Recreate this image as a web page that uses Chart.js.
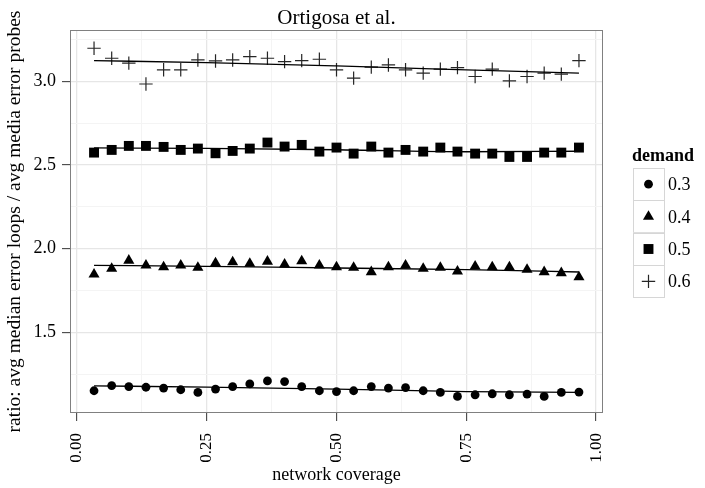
<!DOCTYPE html>
<html>
<head>
<meta charset="utf-8">
<script src="https://cdn.jsdelivr.net/npm/chart.js@4.4.0/dist/chart.umd.min.js"></script>
<style>
  html, body { margin: 0; padding: 0; background: #ffffff; }
  canvas { display: block; }
</style>
</head>
<body>
<canvas id="chart" width="705" height="488"></canvas>
<script>
// Network coverage values shared by every demand level
const coverage = [0.033, 0.067, 0.100, 0.133, 0.167, 0.200, 0.233, 0.267, 0.300, 0.333,
                  0.367, 0.400, 0.433, 0.467, 0.500, 0.533, 0.567, 0.600, 0.633, 0.667,
                  0.700, 0.733, 0.767, 0.800, 0.833, 0.867, 0.900, 0.933, 0.967];

const demandLevels = ['0.3', '0.4', '0.5', '0.6'];

// Ratio of error medians (loops / probes), one array per demand level
const ratio03 = [1.151, 1.182, 1.176, 1.172, 1.167, 1.157, 1.141, 1.161, 1.176, 1.192,
                 1.210, 1.206, 1.176, 1.151, 1.146, 1.151, 1.176, 1.167, 1.170, 1.151,
                 1.141, 1.117, 1.127, 1.133, 1.127, 1.131, 1.117, 1.141, 1.143];
const ratio04 = [1.847, 1.881, 1.930, 1.901, 1.890, 1.901, 1.887, 1.914, 1.920, 1.911,
                 1.924, 1.907, 1.926, 1.901, 1.890, 1.887, 1.861, 1.890, 1.901, 1.881,
                 1.887, 1.865, 1.895, 1.890, 1.890, 1.875, 1.861, 1.855, 1.831];
const ratio05 = [2.575, 2.591, 2.615, 2.615, 2.609, 2.591, 2.599, 2.571, 2.585, 2.599,
                 2.635, 2.611, 2.621, 2.581, 2.605, 2.569, 2.611, 2.575, 2.591, 2.581,
                 2.605, 2.581, 2.569, 2.569, 2.549, 2.549, 2.575, 2.575, 2.605];
const ratio06 = [3.199, 3.139, 3.110, 2.985, 3.070, 3.070, 3.129, 3.123, 3.129, 3.149,
                 3.139, 3.119, 3.125, 3.133, 3.070, 3.020, 3.086, 3.099, 3.070, 3.050,
                 3.074, 3.083, 3.030, 3.074, 3.004, 3.030, 3.050, 3.044, 3.125];

// Smoothed trend per demand level
const fitCoverage = [0.033, 0.250, 0.500, 0.750, 0.967];
const fit03 = [1.180, 1.173, 1.161, 1.146, 1.141];
const fit04 = [1.901, 1.895, 1.885, 1.875, 1.861];
const fit05 = [2.603, 2.600, 2.592, 2.580, 2.583];
const fit06 = [3.125, 3.113, 3.093, 3.070, 3.050];

// Axis ticks
const xMajorTicks = [0, 0.25, 0.5, 0.75, 1.0];
const xMinorTicks = [0.125, 0.375, 0.625, 0.875];
const yMajorTicks = [1.5, 2.0, 2.5, 3.0];
const yMinorTicks = [1.25, 1.75, 2.25, 2.75, 3.25];

const chartTitle = 'Ortigosa et al.';
const xTitle = 'network coverage';
const yTitle = 'ratio: avg median error loops / avg media error probes';
const legendTitle = 'demand';

// ---------------------------------------------------------------------------
const FONT = '"Liberation Serif", "Times New Roman", serif';
Chart.defaults.font.family = FONT;
Chart.defaults.color = '#000';

const markers = [
  { pointStyle: 'circle',   radius: 4.4, fill: '#000', stroke: '#000', width: 0 },
  { pointStyle: 'triangle', radius: 6.4, fill: '#000', stroke: '#000', width: 0 },
  { pointStyle: 'rect',     radius: 7.0, fill: '#000', stroke: '#000', width: 0 },
  { pointStyle: 'cross',    radius: 6.7, fill: 'rgba(0,0,0,0)', stroke: '#262626', width: 1.2 }
];

const series = [ratio03, ratio04, ratio05, ratio06];
const fits = [fit03, fit04, fit05, fit06];
const toXY = (xs, ys) => xs.map((x, i) => ({ x: x, y: ys[i] }));

const isIn = (v, list) => list.some(t => Math.abs(t - v) < 1e-9);

const datasets = [];
fits.forEach((f, i) => {
  datasets.push({
    label: 'trend ' + demandLevels[i],
    data: toXY(fitCoverage, f),
    showLine: true,
    borderColor: '#000',
    borderWidth: 1.3,
    pointRadius: 0,
    cubicInterpolationMode: 'monotone',
    fill: false
  });
});
series.forEach((s, i) => {
  const m = markers[i];
  datasets.push({
    label: demandLevels[i],
    data: toXY(coverage, s),
    showLine: false,
    pointStyle: m.pointStyle,
    pointRadius: m.radius,
    pointBackgroundColor: m.fill,
    pointBorderColor: m.stroke,
    pointBorderWidth: m.width
  });
});

function gridFor(major) {
  return {
    color: c => (c.tick && isIn(c.tick.value, major)) ? '#e6e6e6' : '#f4f4f4',
    lineWidth: c => (c.tick && isIn(c.tick.value, major)) ? 1.3 : 1,
    tickColor: c => (c.tick && isIn(c.tick.value, major)) ? '#333' : 'rgba(0,0,0,0)',
    tickLength: 8,
    tickWidth: 1,
    drawTicks: true
  };
}

// Panel outline around the plotting area
const panelFrame = {
  id: 'panelFrame',
  afterDatasetsDraw(chart) {
    const { ctx, chartArea: a } = chart;
    ctx.save();
    ctx.strokeStyle = '#808080';
    ctx.lineWidth = 1;
    ctx.strokeRect(Math.round(a.left) + 0.5, Math.round(a.top) + 0.5,
                   Math.round(a.right - a.left) - 1, Math.round(a.bottom - a.top) - 1);
    ctx.restore();
  }
};

// Title centred over the panel
const panelTitle = {
  id: 'panelTitle',
  afterDraw(chart) {
    const { ctx, chartArea: a } = chart;
    ctx.save();
    ctx.font = '21px ' + FONT;
    ctx.fillStyle = '#000';
    ctx.textAlign = 'center';
    ctx.textBaseline = 'alphabetic';
    ctx.fillText(chartTitle, (a.left + a.right) / 2, 24);
    ctx.restore();
  }
};

// Shape key for the demand levels
const demandKey = {
  id: 'demandKey',
  afterDraw(chart) {
    const { ctx } = chart;
    const x0 = 633, y0 = 168, w = 31, h = 32.4;
    ctx.save();
    ctx.fillStyle = '#000';
    ctx.font = 'bold 18px ' + FONT;
    ctx.textAlign = 'left';
    ctx.textBaseline = 'alphabetic';
    ctx.fillText(legendTitle, 632, 161);
    demandLevels.forEach((lab, i) => {
      const y = y0 + i * h;
      const m = markers[i];
      ctx.fillStyle = '#fff';
      ctx.fillRect(x0, y, w, h);
      ctx.strokeStyle = '#d6d6d6';
      ctx.lineWidth = 1;
      ctx.strokeRect(Math.round(x0) + 0.5, Math.round(y) + 0.5, w, Math.round(h));
      ctx.fillStyle = m.fill;
      ctx.strokeStyle = m.stroke;
      ctx.lineWidth = m.width;
      Chart.helpers.drawPoint(ctx, { pointStyle: m.pointStyle, radius: m.radius,
                                     borderWidth: m.width, rotation: 0 },
                              x0 + w / 2, y + h / 2);
      ctx.fillStyle = '#000';
      ctx.font = '18px ' + FONT;
      ctx.fillText(lab, 668, y + h / 2 + 6);
    });
    ctx.restore();
  }
};

new Chart(document.getElementById('chart'), {
  type: 'scatter',
  data: { datasets: datasets },
  plugins: [panelFrame, panelTitle, demandKey],
  options: {
    responsive: false,
    animation: false,
    devicePixelRatio: 1,
    events: [],
    layout: { padding: { top: 30, right: 102, left: 0, bottom: 0 } },
    plugins: {
      legend: { display: false },
      tooltip: { enabled: false },
      title: { display: false }
    },
    scales: {
      x: {
        type: 'linear',
        min: -0.0133,
        max: 1.0133,
        afterBuildTicks: s => {
          s.ticks = xMajorTicks.concat(xMinorTicks).sort((a, b) => a - b).map(v => ({ value: v }));
        },
        afterFit: s => { s.height = 75; },
        grid: gridFor(xMajorTicks),
        border: { display: false },
        ticks: {
          autoSkip: false,
          minRotation: 90,
          maxRotation: 90,
          padding: 12,
          color: '#000',
          font: { size: 17 },
          callback: v => isIn(v, xMajorTicks) ? v.toFixed(2) : ''
        },
        title: {
          display: true,
          text: xTitle,
          color: '#000',
          font: { size: 18 },
          padding: { top: 0, bottom: 2 }
        }
      },
      y: {
        type: 'linear',
        min: 1.018,
        max: 3.308,
        afterBuildTicks: s => {
          s.ticks = yMajorTicks.concat(yMinorTicks).sort((a, b) => a - b).map(v => ({ value: v }));
        },
        afterFit: s => { s.width = 70; },
        grid: gridFor(yMajorTicks),
        border: { display: false },
        ticks: {
          padding: 6,
          color: '#000',
          font: { size: 18 },
          callback: v => isIn(v, yMajorTicks) ? v.toFixed(1) : ''
        },
        title: {
          display: true,
          text: yTitle,
          color: '#000',
          font: { size: 19.5 },
          padding: { top: 3, bottom: 0 }
        }
      }
    }
  }
});
</script>
</body>
</html>
